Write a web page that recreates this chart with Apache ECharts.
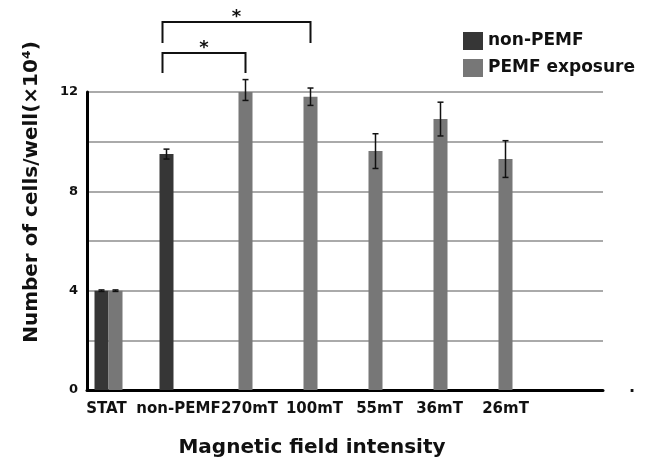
<!DOCTYPE html>
<html>
<head>
<meta charset="utf-8">
<script src="https://cdn.jsdelivr.net/npm/echarts@6/dist/echarts.min.js"></script>
<style>
html,body{margin:0;padding:0;background:#fff;}
#chart{width:653px;height:459px;}
</style>
</head>
<body>
<div id="chart"></div>
<script>
// ---- data ----
var categories = ['STAT', 'non-PEMF', '270mT', '100mT', '55mT', '36mT', '26mT', ''];
var nonPemfValues = [4.0, 9.50, null, null, null, null, null, null];
var nonPemfErrors = [0.03, 0.2, null, null, null, null, null, null];
var pemfValues = [4.0, null, 12.08, 11.81, 9.62, 10.91, 9.30, null];
var pemfErrors = [0.03, null, 0.42, 0.35, 0.7, 0.68, 0.74, null];
var yTicks = [0, 4, 8, 12];
// significance brackets: [fromCategory, toCategory, barLevel, legBottom, label]
var brackets = [
  [1, 3, 14.82, 13.97, '*'],
  [1, 2, 13.57, 12.77, '*']
];

var FONT = 'DejaVu Sans';
var DARK = '#363636';
var LIGHT = '#777777';
var BAR_W = 14;
// horizontal nudges of the category labels (layout only)
var labelShift = [-2, 5, 11, 11, 11, 6, 7, 0];

var richStyles = {};
labelShift.forEach(function (s, i) {
  richStyles['c' + i] = {
    fontFamily: FONT, fontWeight: 'bold', fontSize: 15, color: '#111',
    padding: s >= 0 ? [0, 0, 0, 2 * s] : [0, -2 * s, 0, 0]
  };
});

function errData(vals, errs) {
  var out = [];
  for (var i = 0; i < vals.length; i++) {
    if (vals[i] != null && errs[i] != null) out.push([i, vals[i], errs[i]]);
  }
  return out;
}

function errRender(offset) {
  return function (params, api) {
    var idx = api.value(0), v = api.value(1), e = api.value(2);
    var hi = api.coord([idx, v + e]);
    var lo = api.coord([idx, v - e]);
    var x = hi[0] + offset;
    var cap = 3;
    var st = {stroke: '#111', lineWidth: 1.5};
    return {
      type: 'group',
      children: [
        {type: 'line', shape: {x1: x, y1: hi[1], x2: x, y2: lo[1]}, style: st},
        {type: 'line', shape: {x1: x - cap, y1: hi[1], x2: x + cap, y2: hi[1]}, style: st},
        {type: 'line', shape: {x1: x - cap, y1: lo[1], x2: x + cap, y2: lo[1]}, style: st}
      ]
    };
  };
}

var chart = echarts.init(document.getElementById('chart'), null, {renderer: 'canvas'});

chart.setOption({
  backgroundColor: '#fff',
  animation: false,
  legend: {
    orient: 'vertical',
    left: 463,
    top: 32,
    padding: 0,
    itemWidth: 20,
    itemHeight: 18,
    itemGap: 9,
    itemStyle: {borderWidth: 0},
    textStyle: {fontFamily: FONT, fontWeight: 'bold', fontSize: 17, color: '#111'},
    data: [
      {name: 'non-PEMF', icon: 'rect'},
      {name: 'PEMF exposure', icon: 'rect'}
    ]
  },
  grid: [
    {left: 76, right: 57, top: 92, bottom: 69, containLabel: false, outerBoundsMode: 'none'},
    {left: 87, right: 50, top: 92, bottom: 69, containLabel: false, outerBoundsMode: 'none'}
  ],
  xAxis: [
    {
      type: 'category',
      gridIndex: 0,
      data: categories,
      axisLine: {show: false},
      axisTick: {show: false},
      axisLabel: {
        interval: 0,
        margin: 12,
        fontFamily: FONT, fontWeight: 'bold', fontSize: 15, color: '#111',
        formatter: function (v, i) { return '{c' + i + '|' + v + '}'; },
        rich: richStyles
      },
      name: 'Magnetic field intensity',
      nameLocation: 'middle',
      nameGap: 48,
      nameTextStyle: {
        fontFamily: FONT, fontWeight: 'bold', fontSize: 20, color: '#111',
        padding: [0, 48, 0, 0]
      }
    },
    {
      type: 'value',
      gridIndex: 1,
      min: 0, max: 1,
      axisLine: {show: true, onZero: false, lineStyle: {color: '#000', width: 3}},
      axisTick: {show: false},
      axisLabel: {show: false},
      splitLine: {show: false}
    }
  ],
  yAxis: [
    {
      type: 'value',
      gridIndex: 0,
      min: 0, max: 12, interval: 2,
      show: false
    },
    {
      type: 'value',
      gridIndex: 1,
      min: 0, max: 12, interval: 2,
      axisLine: {show: true, onZero: false, lineStyle: {color: '#000', width: 3}},
      axisTick: {show: false},
      axisLabel: {
        margin: 9,
        fontFamily: FONT, fontWeight: 'bold', fontSize: 13, color: '#111',
        formatter: function (v) { return yTicks.indexOf(v) >= 0 ? String(v) : ''; }
      },
      splitLine: {show: true, lineStyle: {color: '#aaaaaa', width: 2}},
      name: 'Number of cells/well(\u00d710\u2074)',
      nameLocation: 'middle',
      nameGap: 45,
      nameTextStyle: {
        fontFamily: FONT, fontWeight: 'bold', fontSize: 20, color: '#111',
        padding: [0, 0, 0, 98]
      }
    }
  ],
  series: [
    {
      name: 'non-PEMF',
      type: 'bar',
      xAxisIndex: 0, yAxisIndex: 0,
      data: nonPemfValues,
      barWidth: BAR_W,
      barGap: '0%',
      itemStyle: {color: DARK}
    },
    {
      name: 'PEMF exposure',
      type: 'bar',
      xAxisIndex: 0, yAxisIndex: 0,
      data: pemfValues,
      barWidth: BAR_W,
      barGap: '0%',
      itemStyle: {color: LIGHT}
    },
    {
      type: 'custom',
      xAxisIndex: 0, yAxisIndex: 0,
      data: errData(nonPemfValues, nonPemfErrors),
      renderItem: errRender(-BAR_W / 2),
      z: 5
    },
    {
      type: 'custom',
      xAxisIndex: 0, yAxisIndex: 0,
      data: errData(pemfValues, pemfErrors),
      renderItem: errRender(BAR_W / 2),
      z: 5
    },
    {
      type: 'custom',
      xAxisIndex: 0, yAxisIndex: 0,
      clip: false,
      data: brackets,
      renderItem: function (params, api) {
        var a = api.value(0), b = api.value(1), top = api.value(2), leg = api.value(3);
        var pTopA = api.coord([a, top]);
        var pTopB = api.coord([b, top]);
        var pLeg = api.coord([a, leg]);
        var x1 = pTopA[0] - BAR_W / 2 - 4;
        var x2 = pTopB[0] + BAR_W / 2;
        var y = pTopA[1], yl = pLeg[1];
        var st = {stroke: '#111', lineWidth: 2, fill: null};
        return {
          type: 'group',
          children: [
            {type: 'polyline', shape: {points: [[x1, yl], [x1, y], [x2, y], [x2, yl]]}, style: st},
            {type: 'text', style: {
              text: api.value(4), x: (x1 + x2) / 2, y: y + 4,
              align: 'center', verticalAlign: 'bottom',
              font: 'bold 18px ' + FONT, fill: '#111'
            }}
          ]
        };
      },
      z: 6
    }
  ],
  graphic: [
    {type: 'text', left: 629, top: 380, style: {text: '.', font: 'bold 16px ' + FONT, fill: '#111'}}
  ]
});
</script>
</body>
</html>
